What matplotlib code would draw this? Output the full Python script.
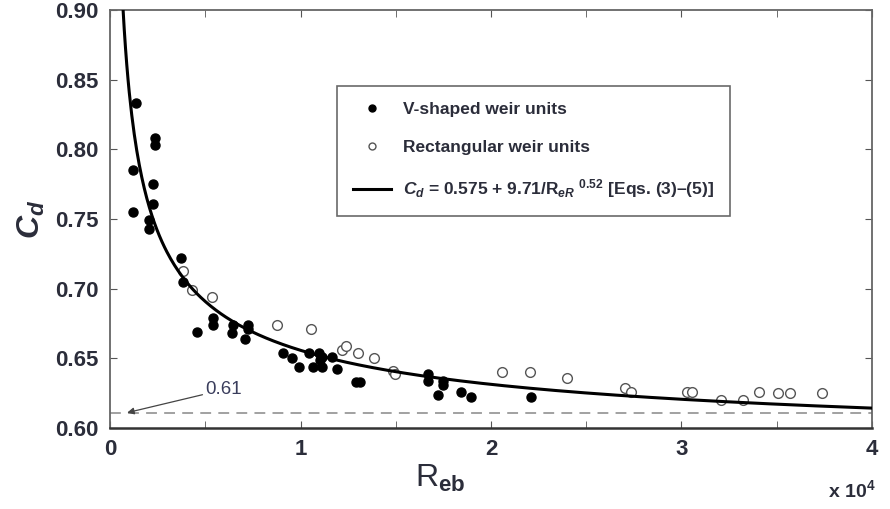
import numpy as np
import matplotlib
matplotlib.use("Agg")
import matplotlib.pyplot as plt
from matplotlib.ticker import MultipleLocator

plt.rcParams['font.family'] = ['Liberation Sans', 'DejaVu Sans']
plt.rcParams['mathtext.fontset'] = 'custom'
plt.rcParams['mathtext.rm'] = 'Liberation Sans:bold'
plt.rcParams['mathtext.it'] = 'Liberation Sans:bold:italic'
plt.rcParams['mathtext.bf'] = 'Liberation Sans:bold'

# V-shaped weir units (Reb in 1e4, Cd)
v_x = [0.136, 0.236, 0.236, 0.121, 0.226, 0.226, 0.121, 0.205, 0.205, 0.373,
       0.383, 0.457, 0.541, 0.541, 0.646, 0.640, 0.724, 0.724, 0.709, 0.908,
       0.955, 0.992, 1.045, 1.066, 1.097, 1.113, 1.102, 1.113, 1.165, 1.192,
       1.290, 1.310, 1.669, 1.669, 1.748, 1.748, 1.722, 1.843, 1.895, 2.210]
v_y = [0.833, 0.808, 0.803, 0.785, 0.775, 0.761, 0.755, 0.749, 0.743, 0.722,
       0.705, 0.669, 0.679, 0.674, 0.674, 0.668, 0.674, 0.671, 0.664, 0.654,
       0.650, 0.644, 0.654, 0.644, 0.654, 0.651, 0.649, 0.644, 0.651, 0.642,
       0.633, 0.633, 0.639, 0.634, 0.634, 0.631, 0.624, 0.626, 0.622, 0.622]

# Rectangular weir units
r_x = [0.383, 0.430, 0.535, 0.877, 1.055, 1.218, 1.239, 1.302, 1.386, 1.486,
       1.496, 2.058, 2.205, 2.399, 2.703, 2.735, 3.029, 3.055, 3.207, 3.323,
       3.407, 3.507, 3.570, 3.738]
r_y = [0.713, 0.699, 0.694, 0.674, 0.671, 0.656, 0.659, 0.654, 0.650, 0.641,
       0.639, 0.640, 0.640, 0.636, 0.629, 0.626, 0.626, 0.626, 0.620, 0.620,
       0.626, 0.625, 0.625, 0.625]

# fitted relation Cd = a + b / Re^n
fit_a, fit_b, fit_n = 0.575, 9.71, 0.52
limit_value = 0.611

xticks = [0, 1, 2, 3, 4]
xticklabels = ['0', '1', '2', '3', '4']
yticks = [0.60, 0.65, 0.70, 0.75, 0.80, 0.85, 0.90]
yticklabels = ['0.60', '0.65', '0.70', '0.75', '0.80', '0.85', '0.90']

txt_color = '#2b2d3a'

fig = plt.figure(figsize=(8.9, 5.09), dpi=100)
ax = fig.add_axes([110/890, 1-428/509, 762/890, 418/509])

xc = np.linspace(0.055, 4.0, 600)
yc = fit_a + fit_b / (xc * 1e4) ** fit_n

ax.axhline(limit_value, color='#9a9a9a', lw=1.3, ls=(0, (6, 4)), zorder=1)
ax.plot(v_x, v_y, 'o', ms=6.5, color='black', mec='black', zorder=3,
        label='V-shaped weir units')
ax.plot(r_x, r_y, 'o', ms=7, mfc='white', mec='#555555', mew=1.0, zorder=3,
        label='Rectangular weir units')
ax.plot(xc, yc, '-', color='black', lw=2.2, zorder=4,
        label=r'$C_{d}$ = 0.575 + 9.71/R$_{eR}$ $^{0.52}$ [Eqs. (3)–(5)]')

ax.annotate('0.61', xy=(0.09, limit_value), xytext=(0.5, 0.6275),
            fontsize=13.5, color='#3a3d5c',
            arrowprops=dict(arrowstyle='-|>', color='#444444', lw=0.9,
                            mutation_scale=10, shrinkA=0, shrinkB=0),
            va='center', ha='left')

ax.set_xlim(0, 4)
ax.set_ylim(0.60, 0.90)
ax.set_xticks(xticks)
ax.set_xticklabels(xticklabels)
ax.set_yticks(yticks)
ax.set_yticklabels(yticklabels)
ax.xaxis.set_minor_locator(MultipleLocator(0.5))
ax.tick_params(which='both', direction='in', top=True, right=True,
               colors='#555555', labelcolor=txt_color)
ax.tick_params(which='major', length=5, labelsize=16, pad=8)
ax.tick_params(which='minor', length=5)
for lab in ax.get_xticklabels() + ax.get_yticklabels():
    lab.set_fontweight('bold')
for s in ax.spines.values():
    s.set_color('#666666')
    s.set_linewidth(1.3)
ax.spines['bottom'].set_color('#333333')
ax.spines['bottom'].set_linewidth(1.8)

ax.set_ylabel(r'$C_{d}$', fontsize=23, color=txt_color, labelpad=6)
fig.text(440/890, 1-478/509, r'R$_{\mathrm{eb}}$', fontsize=23, color=txt_color,
         ha='center', va='center')
fig.text(852/890, 1-490/509, r'x 10$^{4}$', fontsize=14, color=txt_color,
         fontweight='bold', ha='center', va='center')

leg = ax.legend(loc='upper left', bbox_to_anchor=(0.298, 0.817),
                prop={'weight': 'bold', 'size': 12.5}, frameon=True, fancybox=False,
                edgecolor='#444444', borderpad=0.9, labelspacing=1.3,
                handlelength=2.2, handletextpad=0.7, borderaxespad=0)
leg.get_frame().set_linewidth(1.2)
for t in leg.get_texts():
    t.set_color(txt_color)
leg.legend_handles[0].set_markersize(5)
leg.legend_handles[1].set_markersize(5)

fig.savefig('out.png', dpi=100)
